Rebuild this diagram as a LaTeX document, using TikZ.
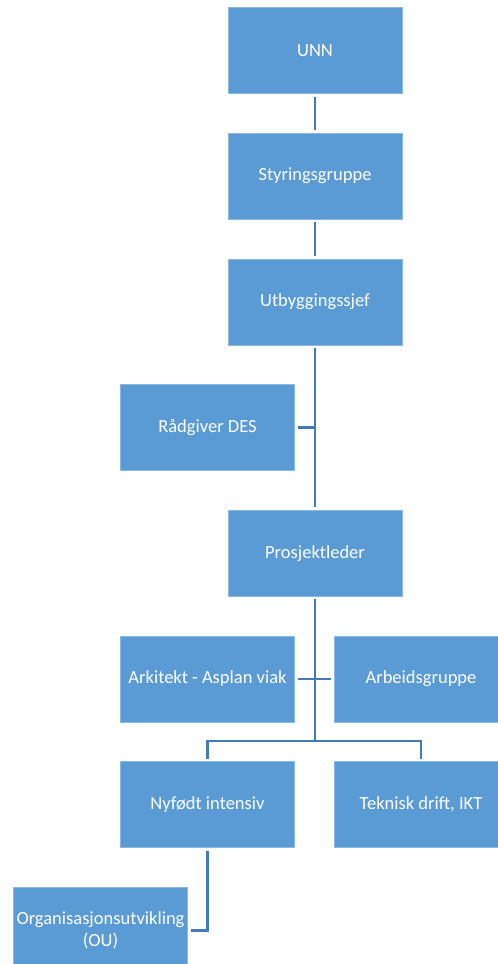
\documentclass[tikz,border=0pt]{standalone}
\usepackage{fontspec}
\setmainfont{Carlito}
\definecolor{boxblue}{RGB}{91,155,213}
\definecolor{lineblue}{RGB}{70,122,182}
\begin{document}
\begin{tikzpicture}[x=1pt,y=-1pt,box/.style={shape=rectangle,fill=boxblue,draw=boxblue!70!white,line width=0.6pt,minimum width=174pt,minimum height=86pt,inner sep=2pt,outer sep=3pt,text=white,align=center,font=\fontsize{18.5}{22}\selectfont},link/.style={draw=lineblue,line width=2.6pt}]
\def\dy{125.7}
\def\xm{315}
\def\xl{207.5}
\def\xr{421}
\def\xo{100.5}
\def\yo{50.5}

\useasboundingbox (0,0) rectangle (498,964);

\node[box] (UNN) at (\xm,\yo) {UNN};
\node[box] (Styr) at (\xm,\yo+\dy) {Styringsgruppe};
\node[box] (Utb) at (\xm,\yo+2*\dy) {Utbyggingssjef};
\node[box] (Rad) at (\xl,\yo+3*\dy) {Rådgiver DES};
\node[box] (Prosj) at (\xm,\yo+4*\dy) {Prosjektleder};

\node[box] (Ark) at (\xl,\yo+5*\dy) {Arkitekt - Asplan viak};
\node[box] (Arb) at (\xr,\yo+5*\dy) {Arbeidsgruppe};

\node[box] (Nyf) at (\xl,\yo+6*\dy) {Nyfødt intensiv};
\node[box] (Tek) at (\xr,\yo+6*\dy) {Teknisk drift, IKT};
\node[box] (OU) at (\xo,\yo+7*\dy) {Organisasjonsutvikling\\(OU)};

\coordinate (split) at (\xm,741);

\draw[link] (UNN) -- (Styr);
\draw[link] (Styr) -- (Utb);
\draw[link] (Utb) -- (Prosj);
\draw[link] (Rad.east) -- (Rad.east -| Utb.south);
\draw[link] (Prosj) -- (split);
\draw[link] (Ark.east) -- (Arb.west);
\draw[link] (Nyf.north) |- (split) -| (Tek.north);
\draw[link] (Nyf.south) |- (OU.east);
\end{tikzpicture}
\end{document}
